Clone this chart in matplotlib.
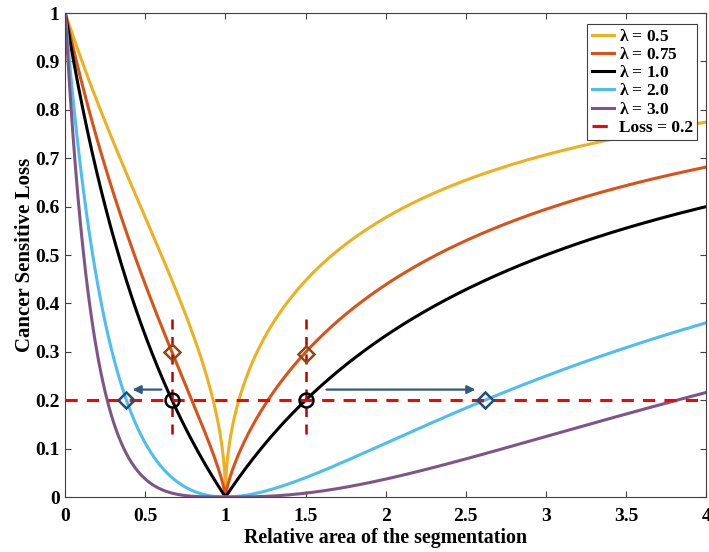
import numpy as np
import matplotlib
matplotlib.use("Agg")
import matplotlib.pyplot as plt
from matplotlib.lines import Line2D

# Data
lambdas = [0.5, 0.75, 1.0, 2.0, 3.0]
labels = [r"$\lambda$ = 0.5", r"$\lambda$ = 0.75", r"$\lambda$ = 1.0", r"$\lambda$ = 2.0", r"$\lambda$ = 3.0"]
colors = ["#EDB120", "#D95319", "#000000", "#4DBEEE", "#7E5587"]
loss_level = 0.2
circle_x = [2/3, 1.5]
circle_y = [0.2, 0.2]
brown_diamond_x = [2/3, 1.5]
brown_diamond_y = [0.299, 0.295]
blue_diamond_x = [0.382, 2.618]
blue_diamond_y = [0.2, 0.2]
vline_x = [2/3, 1.5]
vline_range = [0.13, 0.37]
arrows = [((0.60, 0.222), (0.42, 0.222)), ((1.63, 0.222), (2.56, 0.222))]
xticks = [0, 0.5, 1, 1.5, 2, 2.5, 3, 3.5, 4]
xticklabels = ["0", "0.5", "1", "1.5", "2", "2.5", "3", "3.5", "4"]
yticks = [0, 0.1, 0.2, 0.3, 0.4, 0.5, 0.6, 0.7, 0.8, 0.9, 1]
yticklabels = ["0", "0.1", "0.2", "0.3", "0.4", "0.5", "0.6", "0.7", "0.8", "0.9", "1"]

plt.rcParams['font.family'] = ['Liberation Serif', 'DejaVu Serif']
plt.rcParams['font.weight'] = 'bold'
plt.rcParams['mathtext.fontset'] = 'custom'
plt.rcParams['mathtext.rm'] = 'Liberation Serif:bold'
plt.rcParams['mathtext.it'] = 'Liberation Serif:bold'

fig = plt.figure(figsize=(7.09, 5.52), dpi=100)
ax = fig.add_axes([0.092, 0.0996, 0.904, 0.8768])

r = np.linspace(1e-6, 4, 4000)
base = np.abs(1 - r) / (1 + r)
handles = []
for lam, lab, c in zip(lambdas, labels, colors):
    h, = ax.plot(r, base ** lam, color=c, lw=2.2, label=lab)
    handles.append(h)

ax.axhline(loss_level, color="#FF0000", lw=2.2, ls=(0, (4, 3)))
handles.append(Line2D([], [], color="#FF0000", lw=2.2, ls=(0, (5, 30)), label="Loss = 0.2"))

for vx in vline_x:
    ax.plot([vx, vx], vline_range, color="#C00000", lw=1.8, ls=(0, (4, 3)))

for (s, e) in arrows:
    ax.annotate("", xy=e, xytext=s,
                arrowprops=dict(arrowstyle="-|>", color="#2F5A80", lw=1.6,
                                mutation_scale=12, shrinkA=0, shrinkB=0))

ax.plot(circle_x, circle_y, 'o', ms=10, mfc='none', mec='black', mew=1.8, zorder=5)
ax.plot(brown_diamond_x, brown_diamond_y, 'D', ms=8, mfc='none', mec='#8B4A10', mew=1.8, zorder=5)
ax.plot(blue_diamond_x, blue_diamond_y, 'D', ms=8, mfc='none', mec='#1F4E79', mew=1.8, zorder=5)

ax.set_xlim(0, 4)
ax.set_ylim(0, 1)
ax.set_xticks(xticks)
ax.set_xticklabels(xticklabels)
ax.set_yticks(yticks)
ax.set_yticklabels(yticklabels)
ax.tick_params(direction='in', top=True, right=True, labelsize=14, length=4, color='#404040')
ax.tick_params(axis='x', pad=8)
ax.tick_params(axis='y', pad=4)
for sp in ax.spines.values():
    sp.set_color('#404040')
    sp.set_linewidth(0.8)

ax.set_xlabel("Relative area of the segmentation", fontsize=14.4, fontweight='bold', labelpad=2)
ax.set_ylabel("Cancer Sensitive Loss", fontsize=15, fontweight='bold', labelpad=0)

leg = ax.legend(handles=handles, loc='upper right', fontsize=12.5, handlelength=1.25, handletextpad=0.3,
                borderpad=0.25, labelspacing=0.12, fancybox=False, framealpha=1, borderaxespad=0,
                edgecolor='#404040', bbox_to_anchor=(0.986, 0.977))
leg.get_frame().set_linewidth(0.8)

fig.savefig("out.png", dpi=100)
